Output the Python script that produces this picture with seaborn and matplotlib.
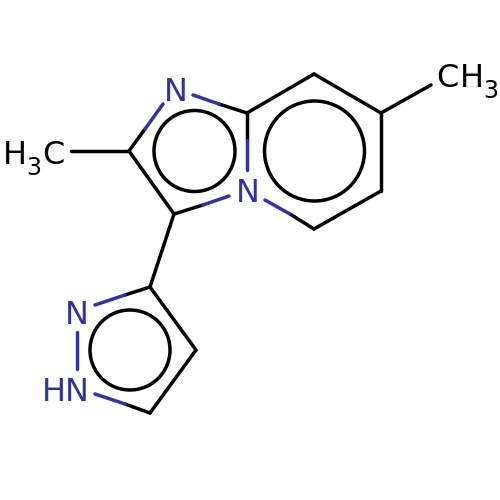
#!/usr/bin/env python3
"""Skeletal formula drawn from bond segments, ring circles and atom labels."""

import matplotlib
matplotlib.use("Agg")
import matplotlib.pyplot as plt
import pandas as pd
import seaborn as sns

BLUE = "#333399"
BLACK = "#000000"

# bond pieces, picture pixels
bond_x0 = [71, 129, 145, 193, 219, 247, 247, 229, 203, 174, 247, 314, 381, 381, 381, 265, 290,
           174, 150, 125, 77, 95, 125, 150, 196]
bond_y0 = [151, 151, 129, 95, 104, 113, 140, 196, 205, 214, 113, 74, 113, 113, 191, 200, 214,
           214, 287, 295, 332, 394, 404, 413, 350]
bond_x1 = [129, 145, 163, 219, 247, 247, 247, 203, 174, 129, 314, 381, 431, 381, 314, 290, 314,
           150, 125, 95, 77, 125, 150, 196, 150]
bond_y1 = [151, 129, 104, 104, 113, 140, 170, 205, 214, 151, 74, 113, 85, 191, 229, 214, 229,
           287, 295, 305, 369, 404, 413, 350, 287]
bond_col = ["k", "k", "b", "b", "k", "k", "b", "b", "k", "k", "k", "k", "k", "k", "k", "b", "k",
            "k", "k", "b", "b", "b", "k", "k", "k"]

# aromatic rings
ring_x = [194.5, 314.5, 130]
ring_y = [151, 151, 350]
ring_r = [40.5, 50, 40]

# atom labels: text, left edge, baseline, size, colour
label_txt = ["N", "N", "N", "HN", "H", "3", "C", "C", "H", "3"]
label_x = [164, 236, 65, 42, 3, 26, 42, 436, 460, 483]
label_y = [101, 202, 324, 401, 164, 175, 164, 87, 87, 98]
label_size = [23, 23, 23, 23, 23, 17, 23, 23, 23, 17]
label_col = ["b", "b", "b", "b", "k", "k", "k", "k", "k", "k"]

COLORS = {"k": BLACK, "b": BLUE}


def bond_table():
    rows = []
    for i, c in enumerate(bond_col):
        rows.append({"bond": i, "x": bond_x0[i], "y": bond_y0[i], "col": c, "step": 0})
        rows.append({"bond": i, "x": bond_x1[i], "y": bond_y1[i], "col": c, "step": 1})
    return pd.DataFrame(rows)


def main():
    sns.set_theme(style="white")
    fig, ax = plt.subplots(figsize=(5, 5), dpi=100)
    fig.subplots_adjust(left=0, right=1, top=1, bottom=0)

    sns.lineplot(data=bond_table(), x="x", y="y", hue="col", units="bond", estimator=None,
                 sort=False, palette=COLORS, linewidth=2.5, legend=False, ax=ax,
                 solid_capstyle="round")

    for x, y, r in zip(ring_x, ring_y, ring_r):
        ax.add_patch(plt.Circle((x, y), r, fill=False, edgecolor=BLACK, linewidth=2.5))

    for txt, x, y, size, c in zip(label_txt, label_x, label_y, label_size, label_col):
        ax.text(x, y, txt, fontsize=size, color=COLORS[c], family="DejaVu Sans",
                ha="left", va="baseline")

    ax.set_xlim(0, 500)
    ax.set_ylim(500, 0)
    ax.axis("off")
    fig.savefig("out.png", dpi=100, facecolor="white")
    plt.close(fig)


if __name__ == "__main__":
    main()
